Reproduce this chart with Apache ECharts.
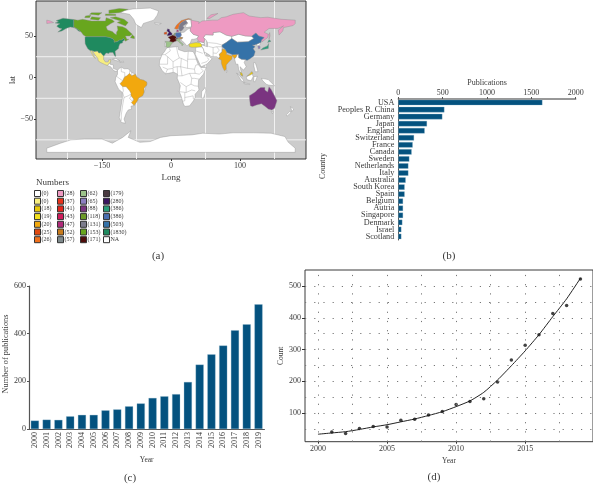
<!DOCTYPE html>
<html>
<head>
<meta charset="utf-8">
<style>
  html, body { margin: 0; padding: 0; background: #fff; }
  #chart { width: 593px; height: 484px; }
</style>
<script src="https://cdn.jsdelivr.net/npm/echarts@6/dist/echarts.min.js"></script>
</head>
<body>
<div id="chart"></div>
<script>
// panel b
const countryNames = ['USA', 'Peoples R. China', 'Germany', 'Japan', 'England', 'Switzerland', 'France', 'Canada', 'Sweden', 'Netherlands', 'Italy', 'Australia', 'South Korea', 'Spain', 'Belgium', 'Autria', 'Singapore', 'Denmark', 'Israel', 'Scotland']
const countryPubs = [1624, 519, 496, 323, 297, 177, 162, 150, 124, 113, 113, 83, 71, 71, 53, 53, 53, 45, 34, 34]

// panel c
const years = ['2000', '2001', '2002', '2003', '2004', '2005', '2006', '2007', '2008', '2009', '2010', '2011', '2012', '2013', '2014', '2015', '2016', '2017', '2018', '2019']
const yearPubs = [35, 39, 38, 53, 59, 59, 78, 82, 95, 107, 130, 137, 146, 197, 270, 313, 350, 414, 439, 523]

// panel d
const pointYears = [2001, 2002, 2003, 2004, 2005, 2006, 2007, 2008, 2009, 2010, 2011, 2012, 2013, 2014, 2015, 2016, 2017, 2018, 2019]
const pointCounts = [40, 35, 51, 57, 56, 77, 80, 94, 105, 127, 136, 145, 198, 267, 314, 347, 414, 439, 523]
const fitYears = [2000, 2001, 2002, 2003, 2004, 2005, 2006, 2007, 2008, 2009, 2010, 2011, 2012, 2013, 2014, 2015, 2016, 2017, 2018, 2019]
const fitCounts = [33, 37, 41, 48, 56, 63, 72, 81, 92, 104, 120, 138, 165, 204, 249, 296, 347, 404, 460, 525]
const countDotsX = [2000, 2002.5, 2005, 2007.5, 2010, 2012.5, 2015, 2017.5]
const countDotsY = [50, 100, 150, 200, 250, 300, 350, 400, 450, 500]

// panel a legend
const binIds = ['b0', 'b0m', 'b18', 'b19', 'b20', 'b25', 'b26', 'b28', 'b37', 'b41', 'b43', 'b47', 'b52', 'b57', 'b62', 'b65', 'b88', 'b118', 'b131', 'b153', 'b171', 'b179', 'b280', 'b386j', 'b386g', 'b503', 'b1830', 'bNA']
const binLabels = ['(0)', '(0)', '(18)', '(19)', '(20)', '(25)', '(26)', '(28)', '(37)', '(41)', '(43)', '(47)', '(52)', '(57)', '(62)', '(65)', '(88)', '(118)', '(131)', '(153)', '(171)', '(179)', '(280)', '(386)', '(386)', '(503)', '(1830)', 'NA']
const binColors = ['#ffffff', '#f7ee80', '#e8c80a', '#f2e01e', '#f2a80e', '#e04a10', '#f0701c', '#ee9ac2', '#e8331c', '#e3261c', '#d01c5c', '#b02a7a', '#c87b1c', '#7f8a8c', '#9cc38a', '#8c7fc0', '#7a3480', '#6c9a28', '#7c7c8c', '#68a61e', '#4f0d0a', '#4a3a40', '#3a1660', '#2a9d7a', '#4a6fb0', '#3572a8', '#1f8a5f', '#ffffff']

// rough country outlines, [lon, lat]
const landRings = {
  usa: [[-124.7,48.4],[-123,49],[-95,49],[-89,48],[-84.5,46.5],[-82.5,45],[-82.5,42.5],[-79,43],[-76,44],[-75,45],[-71,45],[-69,47.3],[-67,45],[-70,43.5],[-70,41.7],[-74,40.5],[-75.5,37.5],[-76,35],[-81,31.5],[-80,26],[-81,25.2],[-82.8,28],[-84,30],[-89,30],[-90,29],[-94,29.5],[-97.3,26],[-99.5,27.5],[-101.5,29.8],[-104.5,29.6],[-106.5,31.8],[-111,31.3],[-114.8,32.5],[-117.2,32.5],[-120.5,34.5],[-122.5,37.5],[-124.3,40.5],[-124.5,43]],
  alaska: [[-141,69.7],[-141,60.3],[-137,59],[-133,56.5],[-130.5,55],[-134,56],[-139,59.7],[-146,60.7],[-152,59],[-158,56],[-164,54.6],[-158,58.5],[-162,59.5],[-165.5,61.5],[-164,63],[-161,64.5],[-168,65.6],[-163,67],[-166.5,68.4],[-156.5,71.3],[-148,70.4]],
  canada: [[-141,69.7],[-135,69],[-128,70],[-115,68],[-108,68],[-95,68],[-94,72],[-85,69.5],[-82,67],[-87,65],[-94,61],[-92,57],[-85,55.3],[-82,52.9],[-79,51.5],[-79,54.5],[-77,57],[-78,62],[-70,61],[-65,59],[-60,55],[-56,52],[-60,50],[-66,50],[-65,48],[-64,46],[-61,46],[-66,43.6],[-67,45],[-69,47.3],[-71,45],[-75,45],[-76,44],[-79,43],[-82.5,42.5],[-82.5,45],[-84.5,46.5],[-89,48],[-95,49],[-123,49],[-127,51],[-130.5,55],[-133,56.5],[-137,59],[-141,60.3]],
  baffin: [[-80,73],[-68,70],[-62,66],[-66,62],[-72,64],[-78,66],[-73,68],[-88,72]],
  victoria: [[-117,70],[-105,69],[-102,72],[-115,73]],
  ellesmere: [[-90,77],[-75,78],[-62,82],[-75,83],[-90,81]],
  banks: [[-125,72],[-118,72],[-116,75],[-124,74]],
  devon: [[-95,74.5],[-80,74.5],[-80,76],[-95,76.5]],
  queenEliz: [[-118,76],[-105,75],[-100,78],[-115,78]],
  newfoundland: [[-59,47.7],[-53,46.7],[-53,49],[-56,51.5]],
  greenland: [[-73,78],[-60,76],[-54,70],[-51,64],[-43,60],[-40,65],[-25,69],[-20,75],[-18,80],[-30,83.5],[-55,82.5],[-68,80.5]],
  mexico: [[-117.2,32.5],[-114.8,32.5],[-111,31.3],[-106.5,31.8],[-104.5,29.6],[-101.5,29.8],[-99.5,27.5],[-97.3,26],[-97.8,22],[-95,18.7],[-91,18.7],[-90.5,21],[-87,21.5],[-88,18],[-91,16],[-92.2,14.5],[-96,15.7],[-102,18],[-105.5,20],[-106,23],[-110,27],[-113,31],[-114.8,31.5],[-112,26.5],[-109.5,23],[-112,24.5],[-115,29]],
  centralAm: [[-92.2,14.5],[-91,16],[-88,18],[-88.5,16],[-83.3,15],[-83.7,11],[-79.5,9.5],[-77.5,8.5],[-78,7.5],[-80.5,7.5],[-83,8.3],[-87.5,13]],
  cuba: [[-85,22],[-80,23],[-74.2,20.2],[-78,20]],
  hispaniola: [[-74.4,19],[-69,19.5],[-68.5,18.3],[-74,18]],
  southAm: [[-77.5,8.5],[-75,11],[-71.5,12.3],[-68,10.5],[-62,10.6],[-57,6],[-51.6,4.2],[-50,1],[-44,-2.5],[-35,-7],[-39,-18],[-47,-24.5],[-53.5,-33.7],[-58,-34.5],[-57,-38],[-62,-39],[-65,-43],[-68,-50],[-66,-55],[-72,-54],[-75,-48],[-73,-38],[-70.5,-25],[-70.5,-18],[-76,-14],[-81,-5],[-80,0],[-77.5,4]],
  brazil: [[-51.6,4.2],[-50,1],[-44,-2.5],[-40,-3],[-35,-5.5],[-35,-9],[-39,-13],[-39,-18],[-41,-22],[-47,-24.5],[-48.5,-28],[-53.5,-33.7],[-57.5,-30],[-54,-27],[-54.5,-25.5],[-58,-22],[-58,-19],[-60,-16],[-65,-11],[-70,-11],[-74,-7.5],[-70,-4],[-67,1],[-64,2],[-60,5],[-57,2]],
  africa: [[-6,35.8],[10,37.3],[11,33.5],[20,31],[25,31.6],[32,31.2],[34.3,28],[37,21],[39.5,15.5],[43.2,12],[51,12],[47,4],[40,-3],[39.5,-10],[40.5,-15],[35,-20],[35,-24],[32.5,-28],[27,-34],[20,-34.8],[18,-32],[14.5,-22],[12,-17],[13.5,-10],[9,-1],[9.5,4],[4,6.3],[-4,5],[-8,4.5],[-13,8.5],[-17,14.7],[-16.5,20],[-13,27.5],[-9.5,31]],
  madagascar: [[49.5,-12],[50.5,-16],[47,-25],[44,-24.5],[44.5,-17]],
  iceland: [[-24,65.5],[-14,65],[-18,63.5],[-22,64]],
  britain: [[-5.5,50],[1.5,51.2],[1.5,53],[-2,56],[-2,57.7],[-5,58.6],[-6,56],[-3,54],[-5,52]],
  ireland: [[-10,52],[-6,52],[-6,55],[-10,54]],
  portugal: [[-9,37],[-7.3,37.2],[-7,42],[-8.8,42]],
  spain: [[-9,43.5],[-2,43.4],[3,42.4],[0,39.5],[-1.5,37],[-5.5,36],[-7.3,37.2],[-7,42]],
  france: [[-4.5,48.5],[2.5,51],[8,49],[7.5,44],[3,42.4],[-2,43.4],[-1,46]],
  germany: [[6,51],[7,53.7],[14,54],[15,51],[13,48.5],[8,47.6],[8,49]],
  netherlands: [[4,51.4],[7,52],[7,53.5],[5,53.3]],
  belgium: [[2.5,51],[4,51.4],[6,51],[6,49.6]],
  switzerland: [[6,46.2],[10,46.5],[10,47.5],[7.5,47.6]],
  austria: [[10,47],[13,48.5],[17,48],[16,46.5],[10,46.6]],
  italy: [[7,44],[8,46],[13,46.5],[12.5,44],[18,40],[16,38],[15.5,40],[12,42],[10,44]],
  denmark: [[8,55],[11,55],[10.5,57.5],[8.5,57]],
  norway: [[5,59],[8,58],[11,59],[12,63],[15,66],[21,69],[25,70],[30,70],[25,71],[15,68.5],[8,63]],
  sweden: [[11,59],[13,55.5],[16,56.5],[19,60],[17,62],[24,65.5],[21,69],[15,66],[12,63]],
  finland: [[22,60],[30,61],[29,69],[25,70],[21,69],[24,65],[21,62]],
  eastEurope: [[14,54],[19,54.5],[24,58],[28,59.5],[28,56],[32,52],[40,50],[38,47],[33,46],[30,46],[28,41.5],[26,40],[23,38],[21,40],[19,42],[14,45.5],[16,46.5],[17,48],[13,48.5],[15,51]],
  turkey: [[26,40],[29,41],[36,42],[42,41.5],[44.5,39.5],[44.5,37],[36,36.5],[30,36.3],[27,37]],
  russia: [[28,59.5],[30,61],[29,69],[41,67],[40,65],[45,68],[60,69],[68,69],[73,72],[80,73],[90,76],[105,78],[113,74],[130,72],[140,72.5],[160,70],[170,69.5],[180,69],[180,65],[177,62.5],[163,60],[162,56],[156.5,51],[155.5,57],[163,62],[155,59],[142,59],[135,54.5],[141,52],[140,48],[132,43],[131,45],[135,48],[127,50],[123,53.5],[117,49.7],[108,50],[98,52],[88,49.5],[80,51],[71,55],[61,54],[61,51],[50,51.5],[47,48],[49,46],[47.5,42],[40,43.5],[38,47],[40,50],[32,52],[28,56]],
  chukotka: [[-180,65],[-170,66],[-175,68],[-180,69]],
  novayaZemlya: [[52,71],[56,71],[68,77],[58,75.5]],
  sakhalin: [[142,46],[143.5,50],[143,54],[142,52]],
  centralAsia: [[50,51.5],[61,51],[61,54],[71,55],[80,51],[88,49.5],[88,47],[80,42],[74,39],[74,31],[70,28],[71,25],[69,23.5],[66,25],[61,25],[57,25.5],[56,27],[50,30],[48,30],[47,34],[44.5,37],[44.5,39.5],[49,38],[53,37],[53,42],[50,46],[47,48]],
  arabia: [[48,30],[50,26],[56,25],[59.5,22.5],[52,16],[43.5,12.8],[39,21],[35,28],[36,36.5],[44.5,37],[47,34]],
  caucasus: [[38,43.5],[47.5,42],[49,40],[44.5,39.5],[42,41.5]],
  mongolia: [[88,49.5],[98,52],[108,50],[117,49.7],[120,47],[112,43],[96,42.5],[88,47]],
  china: [[74,39],[80,42],[88,47],[96,42.5],[112,43],[120,47],[117,49.7],[123,53.5],[127,50],[135,48],[131,45],[130.5,42.5],[124,40],[121,39],[118,39],[122,37],[119,35],[122,31],[120,26],[114,22.3],[110,20.5],[108,21.7],[102,22],[98,24],[98,28],[89,27.5],[81,30],[78.5,34],[74,37]],
  india: [[74,34],[78.5,34],[81,30],[80,28],[88,26],[89,27.5],[96,28],[94,24],[92,23],[89,26],[88,22],[84,19],[80,15],[80,10],[77.5,8],[75,12],[73,17],[72.8,21],[69,22.5],[71,25],[70,28],[74,31]],
  seAsia: [[92,23],[94,24],[96,28],[98,28],[98,24],[102,22],[108,21.7],[106,18],[109,13],[105,9],[100,13],[103,2],[100,6],[98,10],[97,16],[94,16]],
  malaya: [[100.2,6.5],[103,5],[104,1.5],[101,3]],
  sumatra: [[95,5.5],[104,-2],[106,-6],[102,-4]],
  java: [[105.5,-6.5],[114,-7.5],[114,-8.5],[106,-7.5]],
  borneo: [[109,1],[113,3],[117,7],[119,1],[116,-4],[110,-2.5]],
  sabah: [[110,1.5],[113,3.2],[117,7],[119,5],[115,3]],
  sulawesi: [[120,1],[125,1.5],[122,-5],[120,-5]],
  newGuinea: [[131,-1],[141,-2.5],[150,-10],[141,-9],[138,-8],[133,-4]],
  philippines: [[120,18],[122,18],[124,13],[126,7],[122,7],[120,14]],
  sriLanka: [[80,9.5],[82,7.5],[80.5,6]],
  honshu: [[130,33],[135,34],[141,35],[141.5,41],[139.5,38],[133,35.5]],
  hokkaido: [[140,42],[145,43.5],[142,45.5]],
  northKorea: [[124,40],[130.5,42.5],[129,40],[128,38.5],[125,38]],
  southKorea: [[126,38],[129,37.5],[129,35],[126.5,34.5]],
  australia: [[113.5,-22],[122,-17.5],[126,-14],[130,-12],[136,-12],[136,-15],[140,-17.5],[142,-11],[145.5,-15],[150,-22],[153.5,-28],[150,-37],[146,-39],[141,-38],[136,-34.5],[131,-31.5],[124,-33],[118,-35],[115,-34],[114,-27]],
  tasmania: [[145,-41],[148,-41],[147,-43.5]],
  nzNorth: [[173,-35],[178,-38],[175,-41],[174,-37]],
  nzSouth: [[172,-41],[174,-42],[168,-46.5],[167,-45]],
  antarctica: [[-180,-90],[-180,-85],[-160,-79],[-145,-75],[-125,-74],[-100,-74],[-85,-79],[-70,-72],[-58,-64],[-62,-72],[-45,-78],[-30,-77],[-15,-72],[0,-70],[30,-69],[46,-67],[70,-68],[90,-66.5],[120,-66.5],[145,-67],[165,-71],[170,-78],[180,-85],[180,-90]]
}

// which number each outline is filled with
const binMembers = {
  bNA: ['greenland', 'centralAm', 'cuba', 'hispaniola', 'southAm', 'africa', 'madagascar', 'iceland', 'portugal', 'finland', 'eastEurope', 'centralAsia', 'arabia', 'caucasus', 'mongolia', 'seAsia', 'sumatra', 'java', 'borneo', 'sulawesi', 'newGuinea', 'philippines', 'sriLanka', 'northKorea', 'tasmania', 'nzNorth', 'nzSouth', 'antarctica'],
  b1830: ['usa', 'alaska'],
  b153: ['canada', 'baffin', 'victoria', 'ellesmere', 'banks', 'devon', 'queenEliz', 'newfoundland'],
  b0m: ['mexico'],
  b20: ['brazil', 'india'],
  b280: ['britain'],
  b25: ['ireland'],
  b62: ['spain', 'italy'],
  b171: ['france'],
  b386g: ['germany'],
  b118: ['netherlands'],
  b57: ['belgium'],
  b179: ['switzerland'],
  b52: ['austria'],
  b47: ['denmark'],
  b26: ['norway'],
  b131: ['sweden'],
  b19: ['turkey'],
  b28: ['russia', 'chukotka', 'novayaZemlya', 'sakhalin'],
  b503: ['china'],
  b18: ['malaya', 'sabah'],
  b386j: ['honshu', 'hokkaido'],
  b65: ['southKorea'],
  b88: ['australia']
}

// inner borders of the white countries
const borderLines = [
  [[-8.7,27.5],[-1,32],[-2,35]], [[-13,27.5],[-8.7,27.5],[-4.8,25],[3,19],[12,23.5],[9.5,30],[8,37]],
  [[12,23.5],[15,23],[24,19.5],[25,31.6]], [[24,22],[37,22]], [[15,23],[14,13],[9,13],[3,12],[3,19]],
  [[-16.5,16],[-5,16],[-4.8,25]], [[-12,12.5],[-5,10],[3,11],[3,6.3]], [[-5,10],[-8,4.5]], [[9,13],[9.5,4]],
  [[14,13],[24,11],[24,19.5]], [[24,11],[34,10],[36,15],[39.5,15.5]], [[34,10],[35,5],[41,4],[47,8],[43,11]],
  [[14,13],[15,8],[16,2],[9.8,2]], [[16,2],[27,5],[35,5]], [[27,5],[30,-1],[29,-8],[22,-11],[13.5,-6]],
  [[30,-1],[34,-1],[41,-2]], [[29,-8],[34,-10],[39.5,-10.5]], [[22,-11],[22,-18],[12,-17]], [[22,-18],[30,-15],[35,-16]],
  [[20,-18],[20,-28],[17,-28.5]], [[20,-24],[27,-23],[32,-22],[32.5,-26]],
  [[-70,-18],[-68,-24],[-70,-33],[-72,-45],[-72,-52]], [[-68,-24],[-62,-22],[-58,-20]], [[-58,-22],[-60,-25],[-57.5,-27.5],[-54,-27]],
  [[-72,12],[-72,7],[-67,6],[-67,1],[-70,-4],[-75,-1],[-79,1.5]], [[-60,8],[-60,5]], [[-57,6],[-57,2]], [[-70,-11],[-69,-16],[-70,-18]],
  [[54,42],[66,41],[74,39]], [[54,37.5],[61,36],[66,37],[74,37]], [[61,36],[61,25]], [[66,37],[70,33],[66,29],[61,29.5]],
  [[46,29],[36,32]], [[52,24],[55,22],[52,19]], [[44,17],[52,19]]
]

const mapGridX = [-150, -50, 50, 150]
const mapGridY = [25, -25, -75]
const mapTickX = [-100, 0, 100]
const mapTickXLabels = ['\u2212150', '0', '100']
const mapTickY = [50, 0, -50]

const SERIF = '"Liberation Serif", serif'
const TXT = '#3a3a3a'

const chart = echarts.init(document.getElementById('chart'), null, { renderer: 'canvas' })

const polygonItem = (params, api, ids, color) => {
  const ring = landRings[ids[params.dataIndex]]
  return {
    type: 'polygon',
    shape: { points: ring.map(p => api.coord(p)) },
    style: { fill: color, stroke: '#8e8e8e', lineWidth: 0.4 }
  }
}

// one custom series per legend number
const mapSeries = binIds.map((id, i) => {
  const ids = binMembers[id] || []
  return {
    name: id,
    type: 'custom',
    xAxisIndex: 0,
    yAxisIndex: 0,
    z: id === 'bNA' ? 3 : 4,
    itemStyle: { color: binColors[i] },
    data: ids.map(k => landRings[k][0]),
    renderItem: (params, api) => polygonItem(params, api, ids, binColors[i])
  }
})

const legendColumn = (from, left) => ({
  orient: 'vertical',
  left: left,
  top: 190,
  itemWidth: 6,
  itemHeight: 6,
  itemGap: 0.7,
  selectedMode: false,
  icon: 'rect',
  padding: 0,
  textStyle: { fontFamily: SERIF, fontSize: 6, lineHeight: 7, color: TXT, padding: [0, 0, 0, -4] },
  formatter: name => binLabels[binIds.indexOf(name)],
  data: binIds.slice(from, from + 7).map((id, i) => ({
    name: id,
    itemStyle: { color: binColors[from + i], borderColor: '#333', borderWidth: 1 }
  }))
})

const caption = (text, left, top) => ({
  text: text, left: left, top: top, textAlign: 'center', padding: 0,
  textStyle: { fontFamily: SERIF, fontSize: 11, fontWeight: 'normal', color: TXT }
})

const option = {
  backgroundColor: '#fff',
  animation: false,
  textStyle: { fontFamily: SERIF, color: TXT },
  title: [
    { text: 'Numbers', left: 36, top: 178.5, padding: 0, textStyle: { fontFamily: SERIF, fontSize: 9, fontWeight: 'normal', color: TXT } },
    caption('(a)', 158, 251),
    caption('(b)', 449, 251),
    caption('(c)', 130, 473),
    caption('(d)', 434, 472)
  ],
  legend: [legendColumn(0, 34), legendColumn(7, 57), legendColumn(14, 80), legendColumn(21, 103)],
  grid: [
    { left: 36, top: 1, width: 270, height: 158, show: true, backgroundColor: '#cccccc', borderColor: '#333', borderWidth: 1 },
    { left: 398.3, top: 99, width: 177.4, height: 141 },
    { left: 29, top: 286, width: 235.4, height: 143 },
    { left: 305, top: 270, width: 289, height: 171.7, show: true, borderColor: '#3a3a3a', borderWidth: 1 }
  ],
  xAxis: [
    {
      gridIndex: 0, type: 'value', min: -195.6, max: 195.6, name: 'Long', nameLocation: 'middle', nameGap: 14,
      nameTextStyle: { fontFamily: SERIF, fontSize: 9, color: TXT },
      axisLine: { show: false, onZero: false },
      axisTick: { length: 2, customValues: mapTickX, lineStyle: { color: '#333' } },
      axisLabel: {
        customValues: mapTickX, fontSize: 8, margin: 3, color: TXT, fontFamily: SERIF,
        formatter: v => mapTickXLabels[mapTickX.indexOf(v)]
      },
      splitLine: { show: false }
    },
    {
      gridIndex: 1, type: 'value', position: 'top', min: 0, max: 2000, interval: 500, name: 'Publications',
      nameLocation: 'middle', nameGap: 12,
      nameTextStyle: { fontFamily: SERIF, fontSize: 8, color: TXT },
      axisLine: { show: true, onZero: false, lineStyle: { color: '#777', width: 1.5 } },
      axisTick: { show: true, length: 2, lineStyle: { color: '#555' } },
      axisLabel: { fontSize: 8, margin: 2, color: TXT, fontFamily: SERIF, formatter: v => String(v) },
      splitLine: { show: false }
    },
    {
      gridIndex: 2, type: 'category', data: years, name: 'Year', nameLocation: 'middle', nameGap: 27,
      nameTextStyle: { fontFamily: SERIF, fontSize: 7.5, color: TXT },
      axisLine: { lineStyle: { color: '#555', width: 1.2 } },
      axisTick: { alignWithLabel: true, length: 2, lineStyle: { color: '#555' } },
      axisLabel: { rotate: 90, fontSize: 8, margin: 3, interval: 0, color: TXT, fontFamily: SERIF }
    },
    {
      gridIndex: 3, type: 'value', min: 1999.06, max: 2019.91, name: 'Year', nameLocation: 'middle', nameGap: 15,
      nameTextStyle: { fontFamily: SERIF, fontSize: 7.5, color: TXT },
      axisLine: { show: false, onZero: false },
      axisTick: { length: 2, customValues: [2000, 2005, 2010, 2015], lineStyle: { color: '#333' } },
      axisLabel: { customValues: [2000, 2005, 2010, 2015], fontSize: 8, margin: 3, color: TXT, fontFamily: SERIF, formatter: v => String(v) },
      splitLine: { show: false }
    }
  ],
  yAxis: [
    {
      gridIndex: 0, type: 'value', min: -98, max: 92, name: 'lat', nameLocation: 'middle', nameGap: 11,
      nameTextStyle: { fontFamily: SERIF, fontSize: 8, color: TXT },
      axisLine: { show: false, onZero: false },
      axisTick: { length: 2, customValues: mapTickY, lineStyle: { color: '#333' } },
      axisLabel: { customValues: mapTickY, fontSize: 8, margin: 3, color: TXT, fontFamily: SERIF, formatter: v => String(v).replace('-', '\u2212') },
      splitLine: { show: false }
    },
    {
      gridIndex: 1, type: 'category', inverse: true, data: countryNames, name: 'Country', nameLocation: 'middle', nameGap: 71,
      nameTextStyle: { fontFamily: SERIF, fontSize: 8, color: TXT, padding: [0, 0, 0, 7] },
      axisLine: { onZero: false, lineStyle: { color: '#555' } },
      axisTick: { alignWithLabel: true, length: 2, lineStyle: { color: '#555' } },
      axisLabel: { fontSize: 8.2, margin: 4, interval: 0, color: TXT, fontFamily: SERIF }
    },
    {
      gridIndex: 2, type: 'value', min: 0, max: 600, interval: 200,
      name: 'Number of publications', nameLocation: 'middle', nameGap: 19.5,
      nameTextStyle: { fontFamily: SERIF, fontSize: 8.3, color: TXT, padding: [0, 0, 0, 7] },
      axisLine: { show: true, lineStyle: { color: '#555', width: 1.2 } },
      axisTick: { show: true, length: 2, lineStyle: { color: '#555' } },
      axisLabel: { fontSize: 8, margin: 3, color: TXT, fontFamily: SERIF },
      splitLine: { show: false }
    },
    {
      gridIndex: 3, type: 'value', min: 9.4, max: 551, name: 'Count', nameLocation: 'middle', nameGap: 20,
      nameTextStyle: { fontFamily: SERIF, fontSize: 7.5, color: TXT },
      axisLine: { show: false, onZero: false },
      axisTick: { length: 3, customValues: [100, 200, 300, 400, 500], lineStyle: { color: '#333' } },
      axisLabel: { customValues: [100, 200, 300, 400, 500], fontSize: 8, margin: 4, color: TXT, fontFamily: SERIF, formatter: v => String(v) },
      splitLine: { show: false }
    }
  ],
  series: [
    {
      // white grid lines behind the land
      type: 'custom',
      xAxisIndex: 0,
      yAxisIndex: 0,
      z: 1,
      data: mapGridX.map(v => [v, 0]).concat(mapGridY.map(v => [0, v])),
      renderItem: (params, api) => {
        const i = params.dataIndex
        const from = i < mapGridX.length ? api.coord([mapGridX[i], -98]) : api.coord([-195.6, mapGridY[i - mapGridX.length]])
        const to = i < mapGridX.length ? api.coord([mapGridX[i], 92]) : api.coord([195.6, mapGridY[i - mapGridX.length]])
        return {
          type: 'line',
          shape: { x1: from[0], y1: from[1], x2: to[0], y2: to[1] },
          style: { stroke: '#f2f2f2', lineWidth: 1 }
        }
      }
    },
    ...mapSeries,
    {
      type: 'custom',
      xAxisIndex: 0,
      yAxisIndex: 0,
      z: 3,
      data: borderLines.map(l => l[0]),
      renderItem: (params, api) => ({
        type: 'polyline',
        shape: { points: borderLines[params.dataIndex].map(p => api.coord(p)) },
        style: { fill: 'none', stroke: '#9a9a9a', lineWidth: 0.4 }
      })
    },
    {
      type: 'bar',
      xAxisIndex: 1,
      yAxisIndex: 1,
      data: countryPubs,
      barWidth: 5.4,
      itemStyle: { color: '#04527f', borderColor: '#8fb6cc', borderWidth: 0.3 }
    },
    {
      type: 'bar',
      xAxisIndex: 2,
      yAxisIndex: 2,
      data: yearPubs,
      barWidth: 8,
      itemStyle: { color: '#04527f', borderColor: '#8fb6cc', borderWidth: 0.3 }
    },
    {
      type: 'line',
      xAxisIndex: 3,
      yAxisIndex: 3,
      data: fitYears.map((y, i) => [y, fitCounts[i]]),
      smooth: 0.2,
      showSymbol: false,
      lineStyle: { color: '#222', width: 1 },
      z: 3,
      markLine: {
        silent: true,
        symbol: 'none',
        label: { show: false },
        lineStyle: { color: '#777', type: [1.2, 8], width: 1 },
        data: countDotsX.map(v => ({ xAxis: v })).concat(countDotsY.map(v => ({ yAxis: v })))
      }
    },
    {
      type: 'scatter',
      xAxisIndex: 3,
      yAxisIndex: 3,
      data: pointYears.map((y, i) => [y, pointCounts[i]]),
      symbolSize: 3.5,
      itemStyle: { color: '#111' },
      z: 4
    }
  ]
}
chart.setOption(option)
</script>
</body>
</html>
